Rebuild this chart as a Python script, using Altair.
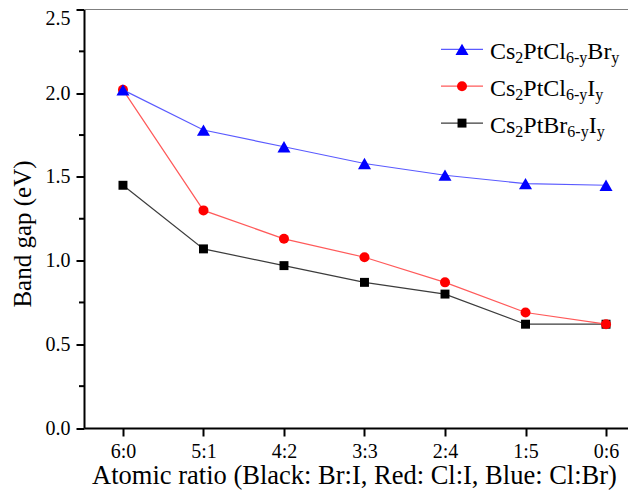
import altair as alt
import pandas as pd

ratios = ["6:0", "5:1", "4:2", "3:3", "2:4", "1:5", "0:6"]
cl_br = [2.02, 1.78, 1.68, 1.58, 1.51, 1.46, 1.45]   # blue  Cs2PtCl6-yBry
cl_i = [2.02, 1.30, 1.13, 1.02, 0.87, 0.69, 0.62]    # red   Cs2PtCl6-yIy
br_i = [1.45, 1.07, 0.97, 0.87, 0.80, 0.62, 0.62]    # black Cs2PtBr6-yIy
y_ticks = [0.0, 0.5, 1.0, 1.5, 2.0, 2.5]
y_minor = [0.25, 0.75, 1.25, 1.75, 2.25]

FONT = "Liberation Serif"
W, H = 544, 418.5
XDOM = [-0.484, 6.273]

series = [
    # name, values, line colour, marker colour, shape, size
    ("br_i", br_i, "#3c3c3c", "#000000", "square", 80),
    ("cl_i", cl_i, "#ff5a5a", "#ff0000", "circle", 100),
    ("cl_br", cl_br, "#5a5aff", "#0000ff", "triangle-up", 170),
]

label_expr = "[" + ",".join("'%s'" % r for r in ratios) + "][datum.value]"

x_enc = alt.X(
    "i:Q",
    scale=alt.Scale(domain=XDOM, nice=False, zero=False),
    axis=alt.Axis(
        values=list(range(len(ratios))),
        labelExpr=label_expr,
        title="Atomic ratio (Black: Br:I, Red: Cl:I, Blue: Cl:Br)",
        titlePadding=1,
        labelPadding=5,
        titleFontSize=26.5,
        titleX=270,
    ),
)
y_enc = alt.Y(
    "v:Q",
    scale=alt.Scale(domain=[0, 2.5], nice=False),
    axis=alt.Axis(
        values=y_ticks, format=".1f", title="Band gap (eV)",
        titlePadding=10, labelPadding=6, titleFontSize=25, titleY=224,
        labelOffset={"condition": {"test": "datum.value == 2.5", "value": 9}, "value": 0},
    ),
)

dummy = pd.DataFrame({"a": [0]})
layers = []

# top frame line
layers.append(
    alt.Chart(dummy).mark_rule(color="#7f7f7f", strokeWidth=1)
    .encode(y=alt.value(0), x=alt.value(0), x2=alt.value(W))
)

for name, vals, lc, mc, shape, size in series:
    df = pd.DataFrame({"i": list(range(len(ratios))), "v": vals, "ratio": ratios})
    base = alt.Chart(df).encode(x=x_enc, y=y_enc)
    layers.append(base.mark_line(color=lc, strokeWidth=1.2))
    layers.append(base.mark_point(shape=shape, size=size, filled=True, color=mc, opacity=1))

# minor y ticks
layers.append(
    alt.Chart(pd.DataFrame({"v": y_minor}))
    .mark_rule(color="black", strokeWidth=2)
    .encode(y=y_enc, x=alt.value(-5), x2=alt.value(0))
)

# custom legend with subscripts
widths = {"C": 667, "s": 389, "P": 556, "t": 278, "l": 278, "B": 667, "r": 333,
          "I": 333, "2": 500, "6": 500, "-": 333, "y": 500}
MAIN, SUB = 24, 16
legend_rows = [
    ("cl_br", [("Cs", 0), ("2", 1), ("PtCl", 0), ("6-y", 1), ("Br", 0), ("y", 1)]),
    ("cl_i", [("Cs", 0), ("2", 1), ("PtCl", 0), ("6-y", 1), ("I", 0), ("y", 1)]),
    ("br_i", [("Cs", 0), ("2", 1), ("PtBr", 0), ("6-y", 1), ("I", 0), ("y", 1)]),
]
style = {s[0]: s for s in series}
row_y0, row_dy = 39.8, 36.9
lx0, lx1, mx, tx = 357, 399, 378, 406
for k, (name, segs) in enumerate(legend_rows):
    cy = row_y0 + k * row_dy
    _, _, lc, mc, shape, size = style[name]
    layers.append(
        alt.Chart(dummy).mark_rule(strokeWidth=1.2, color=lc)
        .encode(x=alt.value(lx0), x2=alt.value(lx1), y=alt.value(cy))
    )
    layers.append(
        alt.Chart(dummy).mark_point(filled=True, opacity=1, color=mc, shape=shape, size=size)
        .encode(x=alt.value(mx), y=alt.value(cy))
    )
    x = tx
    for text, sub in segs:
        fs = SUB if sub else MAIN
        layers.append(
            alt.Chart(dummy).mark_text(
                font=FONT, fontSize=fs, align="left", baseline="alphabetic", color="black"
            ).encode(x=alt.value(x), y=alt.value(cy + 10 + (4 if sub else 0)), text=alt.value(text))
        )
        x += sum(widths[ch] for ch in text) / 1000 * fs

chart = (
    alt.layer(*layers)
    .properties(
        width=W, height=H,
        autosize=alt.AutoSizeParams(type="none"),
        padding={"left": 76, "top": 1.5, "right": 0, "bottom": 70},
        background="white",
    )
    .configure_view(stroke=None)
    .configure_axis(
        grid=False,
        domainColor="black", domainWidth=2,
        tickColor="black", tickWidth=2, tickSize=8,
        labelFont=FONT, labelFontSize=20, labelColor="black",
        titleFont=FONT, titleFontSize=24, titleColor="black", titleFontWeight="normal",
    )
)

chart.save("out.html", embed_options={"renderer": "svg", "actions": False})
